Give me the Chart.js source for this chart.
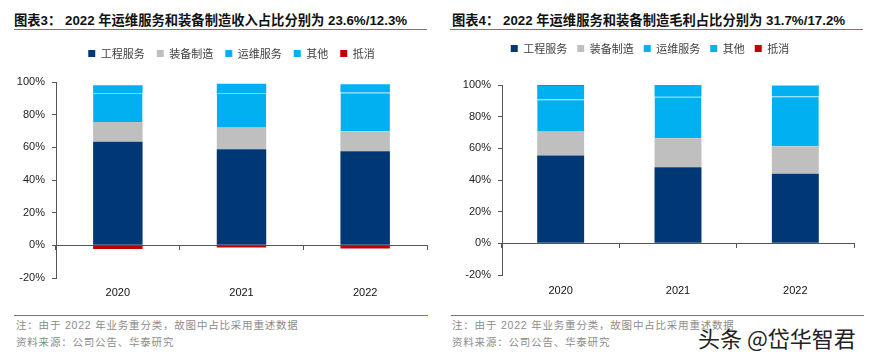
<!DOCTYPE html>
<html>
<head>
<meta charset="utf-8">
<script src="https://cdn.jsdelivr.net/npm/chart.js@4/dist/chart.umd.min.js"></script>
<style>
body { margin: 0; background: #fff; width: 869px; height: 359px; position: relative; overflow: hidden; font-family: "Liberation Sans", Arial, sans-serif; }
.title { position: absolute; top: 13px; font-size: 13.3px; line-height: 16px; font-weight: bold; color: #111; white-space: nowrap; font-family: "Liberation Sans", "Noto Sans CJK SC", sans-serif; }
.rule { position: absolute; height: 0; border-top: 1.5px solid #5b7cab; }
.box { position: absolute; }
.note { position: absolute; font-size: 10.5px; line-height: 14px; color: #8c8c8c; letter-spacing: 0.8px; white-space: nowrap; font-family: "Liberation Sans", "Noto Sans CJK SC", sans-serif; }
.mark { position: absolute; left: 698px; top: 324px; font-size: 22px; line-height: 26px; color: #222; white-space: nowrap; font-family: "Noto Sans CJK SC", sans-serif; text-shadow: 0 0 2px #fff, 0 0 2px #fff; }
</style>
</head>
<body>

<div class="title" style="left:14px">图表3：&nbsp;2022 年运维服务和装备制造收入占比分别为 23.6%/12.3%</div>
<div class="rule" style="left:14px;width:413px;top:29px"></div>
<div class="box" style="left:0;top:36px;width:435px;height:274px"><canvas id="revChart"></canvas></div>
<div class="rule" style="left:14px;width:414px;top:315px"></div>
<div class="note" style="left:16px;top:318px">注：由于 2022 年业务重分类，故图中占比采用重述数据</div>
<div class="note" style="left:16px;top:335px">资料来源：公司公告、华泰研究</div>

<div class="title" style="left:452px">图表4：&nbsp;2022 年运维服务和装备制造毛利占比分别为 31.7%/17.2%</div>
<div class="rule" style="left:450px;width:413px;top:29px"></div>
<div class="box" style="left:435px;top:33px;width:434px;height:276px"><canvas id="gpChart"></canvas></div>
<div class="rule" style="left:451px;width:413px;top:315px"></div>
<div class="note" style="left:452px;top:318px">注：由于 2022 年业务重分类，故图中占比采用重述数据</div>
<div class="note" style="left:452px;top:335px">资料来源：公司公告、华泰研究</div>

<div class="mark">头条 @岱华智君</div>

<script>
// 年份
const years = ["2020", "2021", "2022"];
const seriesNames = ["工程服务", "装备制造", "运维服务", "其他", "抵消"];
const yTicks = [-20, 0, 20, 40, 60, 80, 100];

// 图表3：收入占比 (%)
const revEngineering = [63.4, 58.8, 57.6];
const revEquipment = [12.1, 13.2, 12.3];
const revOandM = [17.8, 21.2, 23.6];
const revOther = [4.7, 5.8, 5.1];
const revOffset = [-2.2, -1.3, -2.0];

// 图表4：毛利占比 (%)
const gpEngineering = [55.4, 48.0, 44.0];
const gpEquipment = [15.1, 18.4, 17.2];
const gpOandM = [20.5, 26.2, 31.7];
const gpOther = [8.5, 7.4, 6.8];
const gpOffset = [0.6, 0, 0];

const colors = ["#003775", "#bfbfbf", "#00b0f0", "#00b0f0", "#c00000"];

function makeChart(id, values, o) {
    const datasets = values.map((data, i) => ({
        label: seriesNames[i],
        data: data,
        backgroundColor: colors[i],
        borderColor: i === 2 ? "#7fd6f7" : colors[i],
        borderWidth: i === 2 ? { top: 1 } : 0,
        borderSkipped: false,
        categoryPercentage: 1,
        barPercentage: 0.4,
    }));

    return new Chart(document.getElementById(id), {
        type: "bar",
        data: { labels: years, datasets: datasets },
        options: {
            responsive: true,
            maintainAspectRatio: false,
            animation: false,
            layout: { padding: { left: o.padLeft, right: o.padRight, top: 0, bottom: o.padBottom } },
            plugins: {
                tooltip: { enabled: false },
                legend: {
                    position: "top",
                    labels: {
                        boxWidth: 7,
                        boxHeight: 7,
                        padding: o.legendPad,
                        color: "#404040",
                        font: { family: "'Noto Sans CJK SC', sans-serif", size: 11 },
                    },
                },
            },
            scales: {
                x: {
                    stacked: true,
                    position: "bottom",
                    grid: { display: false, drawTicks: false },
                    border: { display: false },
                    ticks: {
                        padding: o.xPad,
                        color: "#111",
                        font: { family: "'Liberation Sans', Arial", size: 11 },
                    },
                },
                zero: {
                    axis: "x",
                    type: "category",
                    labels: years,
                    position: { y: 0 },
                    offset: true,
                    grid: { offset: true, drawOnChartArea: false, drawTicks: true, tickLength: 4, color: "#555" },
                    border: { display: true, color: "#555", width: 1 },
                    ticks: { display: false },
                },
                y: {
                    stacked: true,
                    min: -20,
                    max: 100,
                    afterBuildTicks: (s) => { s.ticks = yTicks.map((v) => ({ value: v })); },
                    grid: { drawOnChartArea: false, drawTicks: true, tickLength: 4, color: "#555" },
                    border: { color: "#555" },
                    ticks: {
                        padding: 7,
                        color: "#222",
                        font: { family: "'Liberation Sans', Arial", size: 11 },
                        callback: (v) => v + "%",
                    },
                    afterFit: (s) => { s.width = 46; },
                },
            },
        },
        plugins: [{
            // extra gap under the legend and a sideways nudge of the legend row
            id: "legendTweak",
            beforeInit(chart) {
                const fit = chart.legend.fit;
                chart.legend.fit = function () {
                    fit.call(this);
                    this.height += o.legendGap;
                };
            },
            afterLayout(chart) {
                chart.legend.left += o.legendShift;
                chart.legend.right += o.legendShift;
            },
        }],
    });
}

makeChart("revChart",
    [revEngineering, revEquipment, revOandM, revOther, revOffset],
    { padLeft: 10, padRight: 8, padBottom: 2.8, legendPad: 12, legendGap: 13, legendShift: 13, xPad: 8 });

makeChart("gpChart",
    [gpEngineering, gpEquipment, gpOandM, gpOther, gpOffset],
    { padLeft: 21, padRight: 15, padBottom: 2.8, legendPad: 10, legendGap: 21, legendShift: -5, xPad: 9 });
</script>
</body>
</html>
